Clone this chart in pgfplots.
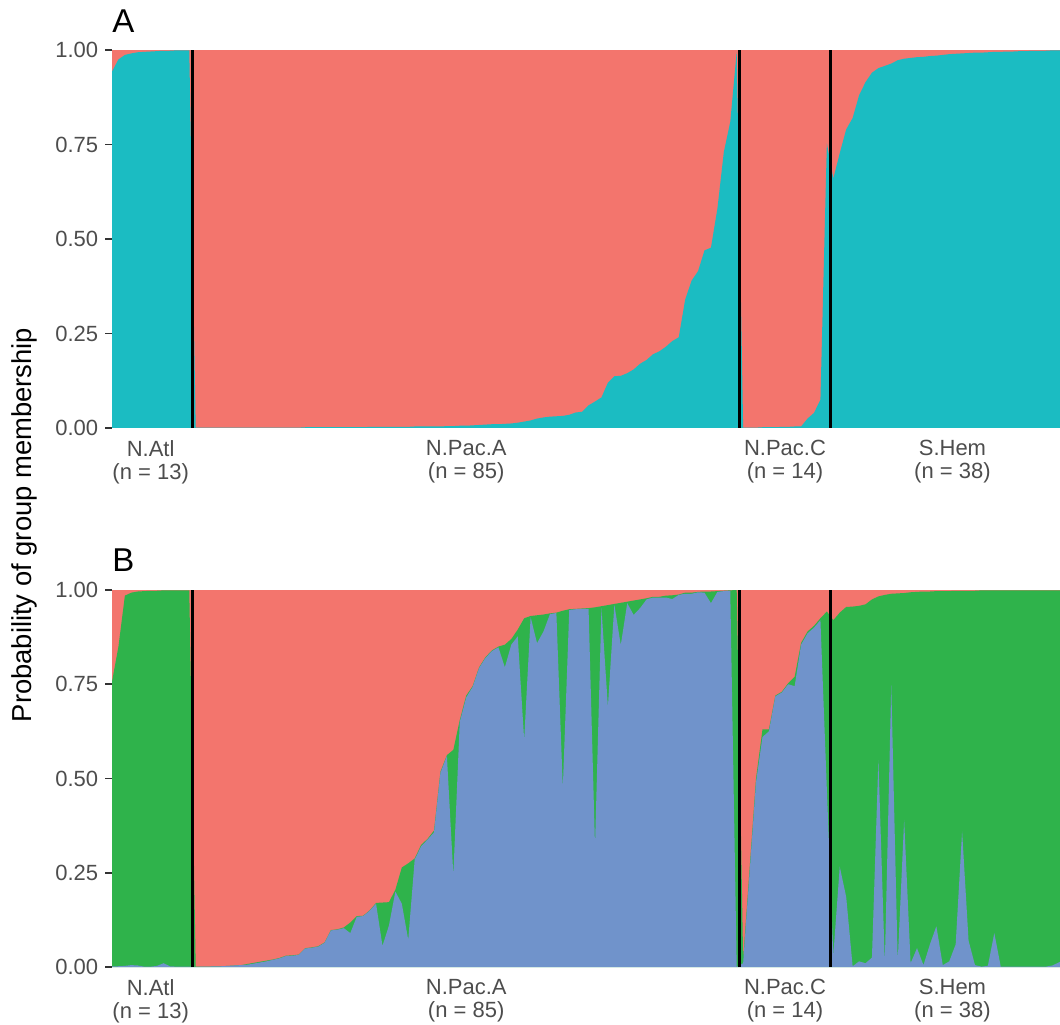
\documentclass[border=0pt]{standalone}
\usepackage{fontspec}
\setmainfont{Liberation Sans}
\usepackage{pgfplots}
\usepackage{pgfplotstable}
\pgfplotsset{compat=1.18}

\definecolor{gred}{HTML}{F3756D}
\definecolor{gcyan}{HTML}{1BBCC2}
\definecolor{ggreen}{HTML}{2FB34B}
\definecolor{gblue}{HTML}{7093CB}
\definecolor{txtgray}{HTML}{4D4D4D}
\definecolor{tickgray}{HTML}{333333}

% panel A: membership probability of the second (cyan) group
\pgfplotstableread{
i c
1 0.943
2 0.975
3 0.987
4 0.991
5 0.994
6 0.995
7 0.996
8 0.997
9 0.998
10 0.998
11 0.999
12 0.999
13 0.999
14 0.001
15 0.001
16 0.001
17 0.001
18 0.001
19 0.001
20 0.001
21 0.001
22 0.001
23 0.001
24 0.001
25 0.001
26 0.001
27 0.001
28 0.001
29 0.001
30 0.001
31 0.002
32 0.002
33 0.002
34 0.002
35 0.002
36 0.002
37 0.002
38 0.002
39 0.002
40 0.002
41 0.003
42 0.003
43 0.003
44 0.003
45 0.003
46 0.003
47 0.003
48 0.004
49 0.004
50 0.004
51 0.004
52 0.004
53 0.005
54 0.005
55 0.006
56 0.006
57 0.007
58 0.008
59 0.009
60 0.010
61 0.010
62 0.011
63 0.012
64 0.014
65 0.017
66 0.020
67 0.025
68 0.028
69 0.030
70 0.031
71 0.032
72 0.035
73 0.041
74 0.043
75 0.060
76 0.070
77 0.081
78 0.120
79 0.137
80 0.138
81 0.145
82 0.155
83 0.170
84 0.180
85 0.195
86 0.203
87 0.215
88 0.230
89 0.240
90 0.340
91 0.390
92 0.415
93 0.470
94 0.477
95 0.580
96 0.730
97 0.810
98 0.995
99 0.001
100 0.001
101 0.001
102 0.002
103 0.002
104 0.002
105 0.003
106 0.003
107 0.004
108 0.004
109 0.025
110 0.040
111 0.075
112 0.753
113 0.660
114 0.727
115 0.790
116 0.820
117 0.880
118 0.915
119 0.940
120 0.952
121 0.958
122 0.964
123 0.973
124 0.977
125 0.979
126 0.981
127 0.982
128 0.984
129 0.985
130 0.987
131 0.989
132 0.990
133 0.991
134 0.992
135 0.993
136 0.993
137 0.994
138 0.995
139 0.995
140 0.996
141 0.996
142 0.997
143 0.997
144 0.998
145 0.998
146 0.998
147 0.999
148 0.999
149 0.999
150 0.999
}\panelA

% panel B: s = blue + green (top of green), b = blue
\pgfplotstableread{
i s b
1 0.757 0.002
2 0.850 0.002
3 0.985 0.003
4 0.993 0.005
5 0.996 0.004
6 0.997 0.001
7 0.998 0.001
8 0.998 0.003
9 0.999 0.010
10 0.999 0.002
11 0.999 0.001
12 0.999 0.001
13 0.999 0.001
14 0.001 0.000
15 0.001 0.001
16 0.001 0.001
17 0.002 0.002
18 0.002 0.002
19 0.003 0.003
20 0.004 0.004
21 0.005 0.005
22 0.008 0.006
23 0.011 0.009
24 0.014 0.012
25 0.017 0.015
26 0.020 0.019
27 0.024 0.023
28 0.030 0.029
29 0.031 0.030
30 0.033 0.032
31 0.050 0.049
32 0.052 0.051
33 0.055 0.054
34 0.065 0.064
35 0.098 0.097
36 0.100 0.099
37 0.105 0.103
38 0.118 0.090
39 0.135 0.133
40 0.136 0.135
41 0.150 0.149
42 0.170 0.168
43 0.171 0.056
44 0.172 0.110
45 0.205 0.200
46 0.264 0.168
47 0.275 0.072
48 0.288 0.285
49 0.324 0.320
50 0.340 0.338
51 0.362 0.357
52 0.518 0.515
53 0.562 0.560
54 0.576 0.244
55 0.655 0.650
56 0.720 0.715
57 0.745 0.743
58 0.795 0.793
59 0.822 0.820
60 0.840 0.838
61 0.850 0.848
62 0.855 0.795
63 0.870 0.855
64 0.895 0.877
65 0.925 0.602
66 0.931 0.928
67 0.933 0.859
68 0.935 0.890
69 0.938 0.936
70 0.940 0.939
71 0.945 0.474
72 0.949 0.947
73 0.950 0.949
74 0.951 0.950
75 0.952 0.950
76 0.954 0.319
77 0.957 0.952
78 0.960 0.690
79 0.963 0.961
80 0.966 0.854
81 0.969 0.965
82 0.972 0.934
83 0.975 0.952
84 0.978 0.975
85 0.982 0.980
86 0.982 0.980
87 0.985 0.980
88 0.986 0.976
89 0.988 0.987
90 0.993 0.990
91 0.993 0.990
92 0.995 0.994
93 0.996 0.993
94 0.996 0.965
95 0.997 0.995
96 0.998 0.997
97 0.999 0.998
98 1.000 0.000
99 0.020 0.010
100 0.260 0.250
101 0.500 0.490
102 0.630 0.610
103 0.630 0.625
104 0.720 0.718
105 0.730 0.728
106 0.753 0.750
107 0.770 0.745
108 0.860 0.855
109 0.890 0.885
110 0.905 0.900
111 0.925 0.920
112 0.943 0.470
113 0.920 0.030
114 0.940 0.266
115 0.955 0.186
116 0.956 0.002
117 0.958 0.015
118 0.962 0.010
119 0.975 0.025
120 0.983 0.549
121 0.987 0.010
122 0.990 0.748
123 0.991 0.015
124 0.992 0.390
125 0.994 0.010
126 0.995 0.050
127 0.996 0.005
128 0.996 0.060
129 0.997 0.108
130 0.997 0.005
131 0.997 0.015
132 0.998 0.060
133 0.998 0.360
134 0.998 0.070
135 0.998 0.005
136 0.999 0.001
137 0.999 0.003
138 0.999 0.090
139 0.999 0.001
140 0.999 0.001
141 0.999 0.001
142 0.999 0.001
143 0.999 0.001
144 0.999 0.001
145 0.999 0.001
146 0.999 0.001
147 0.999 0.004
148 0.999 0.012
149 0.999 0.020
150 0.999 0.025
}\panelB

\pgfplotsset{
  structure/.style={
    scale only axis,
    width=474pt,
    anchor=south west,
    xmin=1, xmax=148.2,
    ymin=0, ymax=1,
    axis line style={draw=none},
    xtick={7,56,105.5,131.5},
    xticklabels={{N.Atl\\(n = 13)},{N.Pac.A\\(n = 85)},{N.Pac.C\\(n = 14)},{S.Hem\\(n = 38)}},
    xticklabel style={align=center, font=\fontsize{11}{11.6}\selectfont, text=txtgray, inner ysep=2.5pt},
    x tick style={draw=none},
    ytick={0,0.25,0.5,0.75,1},
    ytick pos=left,
    tick align=outside,
    major tick length=3.4pt,
    y tick style={tickgray, line width=0.9pt},
    yticklabel style={font=\fontsize{11}{13}\selectfont, text=txtgray,
      /pgf/number format/fixed, /pgf/number format/fixed zerofill,
      /pgf/number format/precision=2},
    /pgf/number format/assume math mode=true,
  },
  divider/.style={black, line width=1.5pt},
}

\begin{document}
\begin{tikzpicture}
\path[use as bounding box] (0,0) rectangle (530pt,512pt);

% panel A
\begin{axis}[structure, at={(56pt,298pt)}, height=189pt]
\addplot[fill=gred, draw=none] coordinates {(1,1) (150,1)} \closedcycle;
\addplot[fill=gcyan, draw=none] table[x=i, y=c] {\panelA} \closedcycle;
\addplot[divider] coordinates {(13.5,0) (13.5,1)};
\addplot[divider] coordinates {(98.5,0) (98.5,1)};
\addplot[divider] coordinates {(112.5,0) (112.5,1)};
\end{axis}

% panel B
\begin{axis}[structure, at={(56pt,28.5pt)}, height=188.5pt]
\addplot[fill=gred, draw=none] coordinates {(1,1) (150,1)} \closedcycle;
\addplot[fill=ggreen, draw=none] table[x=i, y=s] {\panelB} \closedcycle;
\addplot[fill=gblue, draw=none] table[x=i, y=b] {\panelB} \closedcycle;
\addplot[divider] coordinates {(13.5,0) (13.5,1)};
\addplot[divider] coordinates {(98.5,0) (98.5,1)};
\addplot[divider] coordinates {(112.5,0) (112.5,1)};
\end{axis}

\node[anchor=base west, inner sep=0pt, font=\fontsize{16.5}{20}\selectfont] at (56pt,495.85pt) {A};
\node[anchor=base west, inner sep=0pt, font=\fontsize{16.5}{20}\selectfont] at (56pt,226.15pt) {B};
\node[rotate=90, anchor=base, inner sep=0pt, font=\fontsize{13.7}{16}\selectfont] at (15.85pt,249.5pt) {Probability of group membership};
\end{tikzpicture}
\end{document}
